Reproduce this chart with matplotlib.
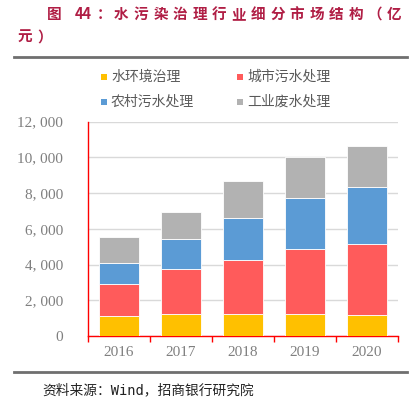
import matplotlib
matplotlib.use("Agg")
import matplotlib.pyplot as plt
from matplotlib.lines import Line2D
from matplotlib.patches import Rectangle
from matplotlib.ticker import FuncFormatter, FixedLocator

plt.rcParams['font.family'] = ['Noto Sans CJK SC', 'DejaVu Sans']

# ------------------ Data ------------------
years = ["2016", "2017", "2018", "2019", "2020"]
series = ["水环境治理", "城市污水处理", "农村污水处理", "工业废水处理"]
env = [1120, 1230, 1230, 1210, 1190]
urban = [1770, 2500, 3040, 3660, 3970]
rural = [1175, 1700, 2330, 2870, 3190]
industry = [1470, 1510, 2050, 2260, 2310]
values = [env, urban, rural, industry]
colors = ['#FFC000', '#FF5B5B', '#5B9BD5', '#B2B2B2']

title_line1 = "水污染治理行业细分市场结构（亿"
title_line2 = "元）"
source = "资料来源：Wind，招商银行研究院"

W, H = 413, 399
fig = plt.figure(figsize=(W / 100, H / 100), dpi=100)

def fx(px):
    return px / W

def fy(py):
    return 1 - py / H

# ------------------ Title ------------------
tcol = '#B01E45'
tkw = dict(fontsize=10.5, fontweight='bold', color=tcol, ha='center', va='center')
fig.text(fx(54), fy(14), "图", **tkw)
fig.text(fx(83.5), fy(14), "44", **tkw)
fig.text(fx(104), fy(14), "：", **tkw)
for i, ch in enumerate(title_line1):
    fig.text(fx(121.5 + i * 19.5), fy(14), ch, **tkw)
for i, ch in enumerate(title_line2):
    fig.text(fx(25 + i * 19.5), fy(37), ch, **tkw)

fig.add_artist(Line2D([fx(14), fx(407)], [fy(57), fy(57)], transform=fig.transFigure,
                      color='#6f6f6f', lw=2))
fig.add_artist(Line2D([fx(14), fx(407)], [fy(372), fy(372)], transform=fig.transFigure,
                      color='#6f6f6f', lw=2))
fig.text(fx(42), fy(390), source, fontsize=9.9, color='#222222', ha='left', va='center',
         family=['DejaVu Sans Mono', 'Noto Sans CJK SC'])

# ------------------ Legend ------------------
leg_pos = [(101, 77), (237, 77), (101, 102), (237, 102)]
for (x, y), name, c in zip(leg_pos, series, colors):
    fig.add_artist(Rectangle((fx(x), fy(y + 3)), 6 / W, 6 / H, transform=fig.transFigure,
                             facecolor=c, edgecolor='none'))
    fig.text(fx(x + 10), fy(y), name, fontsize=10, color='#595959', ha='left', va='center')

# ------------------ Chart ------------------
ax = fig.add_axes([fx(88), fy(336), (398 - 88) / W, (336 - 121.6) / H])
x = range(len(years))
bottom = [0] * len(years)
for vals, name, c in zip(values, series, colors):
    ax.bar(x, vals, width=0.66, bottom=bottom, color=c, edgecolor='white', linewidth=0.6,
           label=name, zorder=3)
    bottom = [b + v for b, v in zip(bottom, vals)]

ax.set_xlim(-0.5, len(years) - 0.5)
ax.set_ylim(0, 12000)
ax.set_yticks(range(0, 12001, 2000))
ax.yaxis.set_major_formatter(FuncFormatter(lambda v, p: f"{v:,.0f}".replace(",", ", ")))
ax.set_xticks(list(x))
ax.set_xticklabels(years)
ax.xaxis.set_minor_locator(FixedLocator([i - 0.5 for i in range(len(years) + 1)]))
ax.tick_params(axis='x', which='major', length=0, pad=7)
ax.tick_params(axis='x', which='minor', length=4, color='red', width=1, direction='out')
ax.tick_params(axis='y', length=0, pad=18)
for lab in ax.get_xticklabels() + ax.get_yticklabels():
    lab.set_fontfamily('Liberation Serif')
    lab.set_fontsize(11)
    lab.set_color('#7f7f7f')

ax.grid(axis='y', color='#D9D9D9', linewidth=1, zorder=0)
for s in ['top', 'right']:
    ax.spines[s].set_visible(False)
for s in ['left', 'bottom']:
    ax.spines[s].set_color('red')
    ax.spines[s].set_linewidth(1)

fig.savefig("out.png", dpi=100)
